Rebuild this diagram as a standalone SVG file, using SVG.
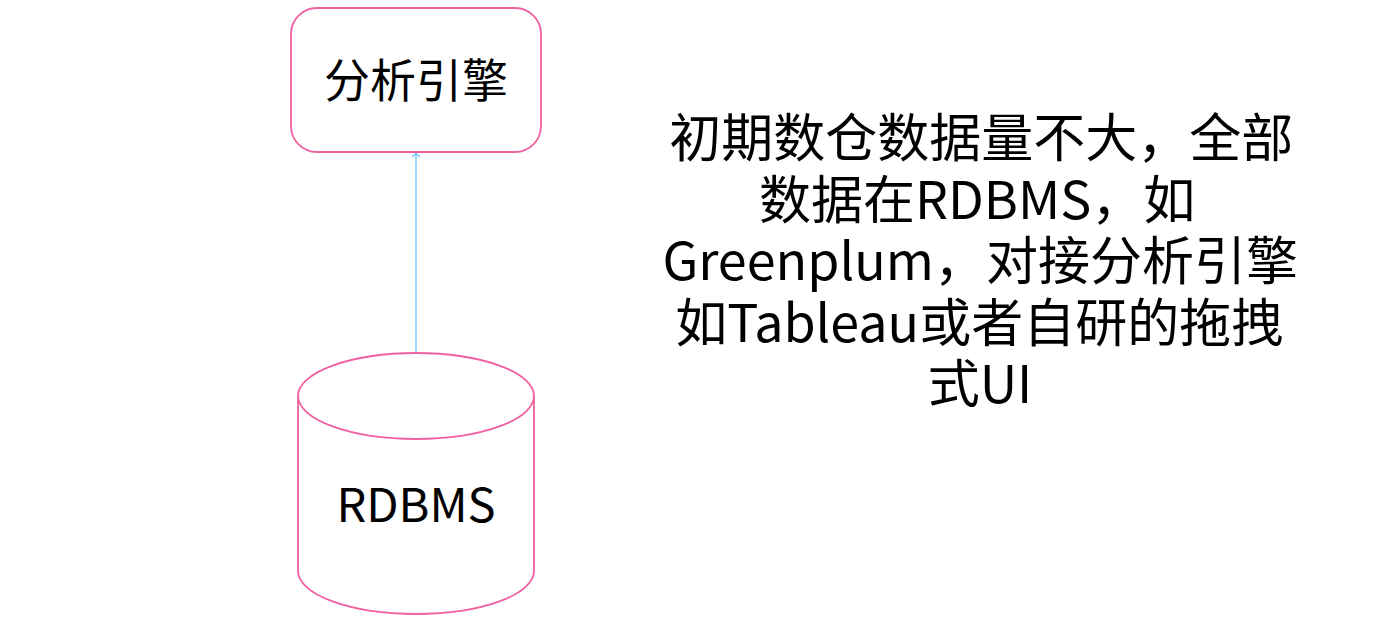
<svg xmlns="http://www.w3.org/2000/svg" width="1377" height="622" viewBox="0 0 1377 622">
<style>
.shape{fill:#ffffff;stroke:#f060a0;stroke-width:1.8}
.t{font-family:"Noto Sans CJK SC","Noto Sans",sans-serif;fill:#000000;text-anchor:middle}
.conn{stroke:#6ec6f7;stroke-width:1.3;fill:none}
</style>
<defs>
<marker id="arr" markerWidth="10" markerHeight="10" refX="5" refY="1" orient="0" markerUnits="userSpaceOnUse">
<path d="M1.5,5 L5,1 L8.5,5" fill="none" stroke="#6ec6f7" stroke-width="1.2"/>
</marker>
</defs>
<rect width="1377" height="622" fill="#ffffff"/>
<g id="connectors">
<line class="conn" x1="416" y1="352" x2="416" y2="153" marker-end="url(#arr)"/>
</g>
<g id="engine">
<rect class="shape" x="291" y="8" width="250" height="144" rx="26" ry="26"/>
<text class="t" x="416" y="97" font-size="46">分析引擎</text>
</g>
<g id="rdbms">
<path class="shape" d="M298,396 L298,571 A118,43 0 0 0 534,571 L534,396 A118,43 0 0 0 298,396 Z"/>
<path class="shape" fill="none" d="M298,396 A118,43 0 0 0 534,396"/>
<text class="t" x="416" y="522" font-size="47">RDBMS</text>
</g>
<g id="note">
<text class="t" font-size="52">
<tspan x="987" y="157">初期数仓数据量不大，全部</tspan>
<tspan x="983" y="218.5">数据在RDBMS，如</tspan>
<tspan x="986" y="280">Greenplum，对接分析引擎</tspan>
<tspan x="985" y="341.5">如Tableau或者自研的拖拽</tspan>
<tspan x="980" y="403">式UI</tspan>
</text>
</g>
</svg>
